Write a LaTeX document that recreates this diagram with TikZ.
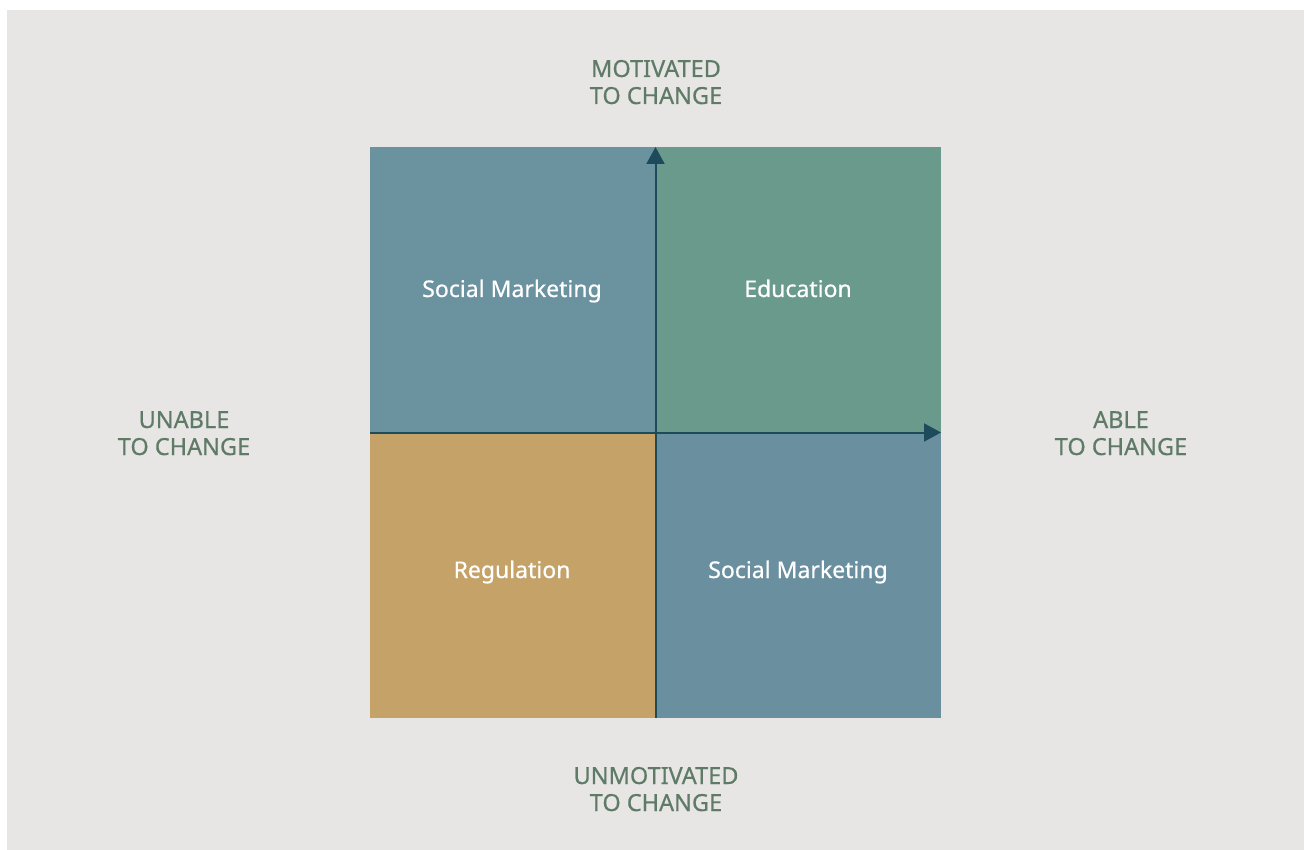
\documentclass[tikz,border=0pt]{standalone}
\usepackage{fontspec}
\setmainfont{Noto Sans}[FakeBold=0.6]
\usetikzlibrary{arrows.meta}
\definecolor{bgc}{HTML}{E7E6E4}
\definecolor{tlc}{HTML}{6B929F}
\definecolor{trc}{HTML}{6A9A8B}
\definecolor{blc}{HTML}{C4A268}
\definecolor{brc}{HTML}{6A909F}
\definecolor{axc}{HTML}{1E4B5B}
\definecolor{lbc}{HTML}{5F7B67}
\tikzset{
  axlabel/.style={text=lbc, align=center, anchor=base, font=\fontsize{23.5}{27}\selectfont, inner sep=0pt},
  qlabel/.style={text=white, anchor=base, font=\fontsize{23}{27}\selectfont, inner sep=0pt},
  axisline/.style={draw=axc, line width=2pt, -{Triangle[width=18pt,length=17pt]}},
}
\begin{document}
\begin{tikzpicture}[x=1pt,y=-1pt]
\useasboundingbox (0,0) rectangle (1304,850);
\fill[white] (0,0) rectangle (1304,850);
\fill[bgc] (7,10) rectangle (1304,850);
\fill[tlc] (370,147) rectangle (655.5,432.5);
\fill[trc] (655.5,147) rectangle (941,432.5);
\fill[blc] (370,432.5) rectangle (655.5,718);
\fill[brc] (655.5,432.5) rectangle (941,718);
\coordinate (vb) at (655.5,718);
\coordinate (vt) at (655.5,147);
\coordinate (hl) at (370,432.5);
\coordinate (hr) at (941,432.5);
\draw[axisline] (vb) -- (vt);
\draw[axisline] (hl) -- (hr);
\node[axlabel] (top) at (656,104) {MOTIVATED\\TO CHANGE};
\node[axlabel] (left) at (184,455) {UNABLE\\TO CHANGE};
\node[axlabel] (right) at (1121,455) {ABLE\\TO CHANGE};
\node[axlabel] (bottom) at (656,811) {UNMOTIVATED\\TO CHANGE};
\node[qlabel] (q1) at (512,297) {Social Marketing};
\node[qlabel] (q2) at (798,297) {Education};
\node[qlabel] (q3) at (512,578) {Regulation};
\node[qlabel] (q4) at (798,578) {Social Marketing};
\end{tikzpicture}
\end{document}
